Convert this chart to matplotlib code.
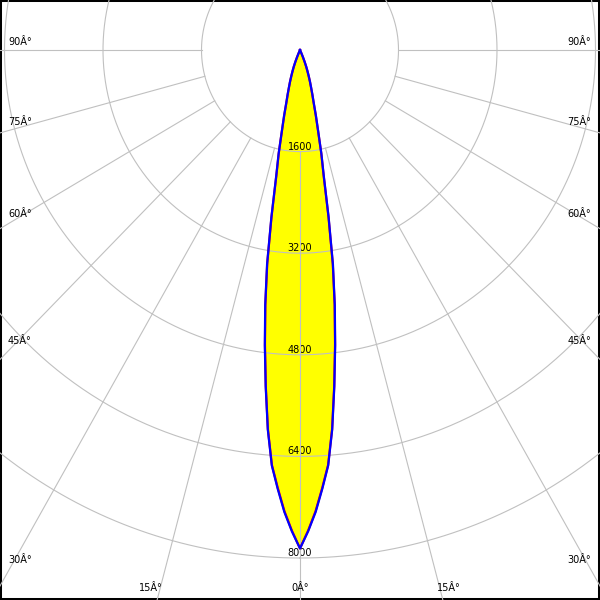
import numpy as np
import matplotlib
matplotlib.use("Agg")
import matplotlib.pyplot as plt

# Luminous intensity (cd) versus angle from nadir (degrees)
angles = [0, 1, 2, 3, 4, 5, 6, 7, 8, 9, 10, 11, 12, 13, 14, 15, 16, 17, 18, 19,
          20, 21, 22, 23, 24, 25, 30, 40, 50, 60, 70, 80, 90]
plane_c0 = [7850, 7570, 7265, 6905, 6550, 5990, 5320, 4670, 4045, 3400, 2660,
            2010, 1660, 1300, 1060, 850, 720, 610, 520, 430, 350, 280, 200,
            120, 60, 20, 0, 0, 0, 0, 0, 0, 0]
plane_c90 = [7850, 7580, 7280, 6920, 6560, 6000, 5330, 4690, 4060, 3420, 2680,
             2030, 1670, 1310, 1070, 860, 730, 615, 525, 435, 355, 285, 205,
             125, 62, 20, 0, 0, 0, 0, 0, 0, 0]
ring_values = [1600, 3200, 4800, 6400, 8000]
ring_labels = ["1600", "3200", "4800", "6400", "8000"]
grid_angles = [0, 15, 30, 45, 60, 75, 90]
angle_labels = ["0Â°", "15Â°", "30Â°", "45Â°", "60Â°", "75Â°", "90Â°"]

W = H = 600
cx, cy = 300, 50
sx = 1600 / 98.5   # cd per pixel horizontally
sy = 1600 / 101.6  # cd per pixel vertically

fig = plt.figure(figsize=(6, 6), dpi=100)
ax = fig.add_axes([0, 0, 1, 1])
ax.set_xlim(-cx * sx, (W - cx) * sx)
ax.set_ylim(-(H - cy) * sy, cy * sy)
ax.set_xticks([])
ax.set_yticks([])
for s in ax.spines.values():
    s.set_linewidth(2.9)
    s.set_color("black")


def to_xy(theta_deg, r):
    t = np.radians(np.asarray(theta_deg, dtype=float))
    r = np.asarray(r, dtype=float)
    return r * np.sin(t), -r * np.cos(t)


def full_curve(vals):
    a = np.array(angles, dtype=float)
    v = np.array(vals, dtype=float)
    th = np.concatenate([-a[::-1], a[1:]])
    rr = np.concatenate([v[::-1], v[1:]])
    return to_xy(th, rr)


gx, gy = full_curve(plane_c90)
ax.fill(gx, gy, color="#ffff00", zorder=1, lw=0)

# ring labels
for rv, lab in zip(ring_values, ring_labels):
    ax.text(0, -rv + 5 * sy, lab, ha="center", va="center", fontsize=7,
            color="black", zorder=2)

# grid circles
tt = np.linspace(0, 360, 721)
for rv in ring_values:
    x, y = to_xy(tt, np.full_like(tt, rv))
    ax.plot(x, y, color="#c0c0c0", lw=0.8, zorder=3)

# radial lines
for a in grid_angles:
    for sgn in ([1, -1] if a != 0 else [1]):
        x, y = to_xy([sgn * a, sgn * a], [ring_values[0], 20000])
        ax.plot(x, y, color="#c0c0c0", lw=0.8, zorder=3)

# curves
rx, ry = full_curve(plane_c0)
ax.plot(rx, ry, color="#ff0000", lw=1.6, zorder=4)
ax.plot(gx, gy, color="#0000ff", lw=1.6, zorder=5)

# angle labels (pixel positions)
def ptxt(px, py, s, ha):
    ax.text(px / W, 1 - py / H, s, transform=ax.transAxes, ha=ha, va="center",
            fontsize=7, color="black", zorder=6)

side_y = {90: 42, 75: 122, 60: 214, 45: 341, 30: 560}
for a, lab in zip(grid_angles, angle_labels):
    if a in side_y:
        ptxt(8, side_y[a], lab, "left")
        ptxt(591, side_y[a], lab, "right")
    elif a == 15:
        ptxt(139, 588, lab, "left")
        ptxt(461, 588, lab, "right")
    elif a == 0:
        ptxt(300, 588, lab, "center")

fig.savefig("out.png", dpi=100)
